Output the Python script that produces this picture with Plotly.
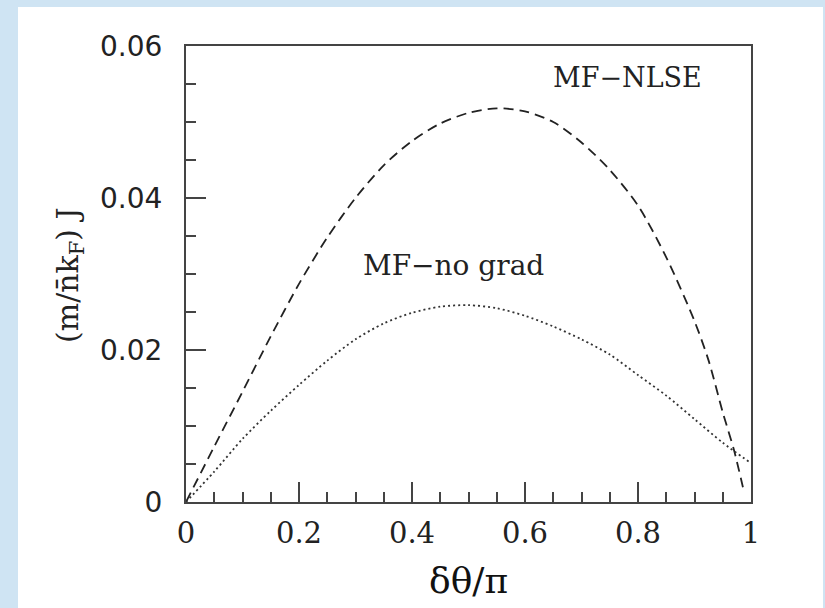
import plotly.graph_objects as go

# Josephson current vs. phase difference
phase = [0.0, 0.05, 0.10, 0.15, 0.20, 0.25, 0.30, 0.35, 0.40, 0.45, 0.50,
         0.55, 0.60, 0.65, 0.70, 0.75, 0.80, 0.85, 0.90, 0.925, 0.95, 0.97, 0.988]
j_nlse = [0.0, 0.0073, 0.0145, 0.0218, 0.0287, 0.0348, 0.0400, 0.0443, 0.0475, 0.0498, 0.0512,
          0.0518, 0.0514, 0.0500, 0.0473, 0.0437, 0.0390, 0.0322, 0.0238, 0.0186, 0.0118, 0.0068, 0.0012]

phase_ng = [0.0, 0.05, 0.10, 0.15, 0.20, 0.25, 0.30, 0.35, 0.40, 0.45, 0.50,
            0.55, 0.60, 0.65, 0.70, 0.75, 0.80, 0.85, 0.90, 0.95, 1.0]
j_nograd = [0.0, 0.0040, 0.0083, 0.0120, 0.0154, 0.0186, 0.0214, 0.0235, 0.0249, 0.0257, 0.0259,
            0.0255, 0.0245, 0.0231, 0.0214, 0.0194, 0.0167, 0.0140, 0.0109, 0.0078, 0.0051]

x_ticks = [0, 0.2, 0.4, 0.6, 0.8, 1]
x_ticktext = ["0", "0.2", "0.4", "0.6", "0.8", "1"]
y_ticks = [0, 0.02, 0.04, 0.06]
y_ticktext = ["0", "0.02", "0.04", "0.06"]

W, H = 825, 608
ML, MR, MT, MB = 186, 74, 46, 106
PW, PH = W - ML - MR, H - MT - MB


def px_x(p):
    return (p - ML) / PW


def px_y(p):
    return (H - MB - p) / PH


fig = go.Figure()
fig.add_trace(go.Scatter(x=phase, y=j_nlse, mode="lines",
                         line=dict(color="#222", width=1.8, dash="10px,6px",
                                   shape="spline", smoothing=0.8),
                         showlegend=False))
fig.add_trace(go.Scatter(x=phase_ng, y=j_nograd, mode="lines",
                         line=dict(color="#333", width=1.8, dash="2px,3px",
                                   shape="spline", smoothing=0.8),
                         showlegend=False))

axis_common = dict(showline=True, mirror=True, linecolor="#444", linewidth=2,
                   showgrid=False, zeroline=False, ticks="inside",
                   tickcolor="#444", tickwidth=1.5, ticklen=20)

fig.update_xaxes(range=[0, 1], tickvals=x_ticks, ticktext=x_ticktext,
                 tickfont=dict(family="DejaVu Serif", size=29, color="#222"),
                 minor=dict(dtick=0.05, tick0=0, ticks="inside", ticklen=10,
                            tickcolor="#444", tickwidth=1.5),
                 ticklabelstandoff=4, **axis_common)
fig.update_yaxes(range=[0, 0.06], tickvals=y_ticks, ticktext=y_ticktext,
                 tickfont=dict(family="DejaVu Sans", size=28, color="#222"),
                 minor=dict(dtick=0.005, tick0=0, ticks="inside", ticklen=10,
                            tickcolor="#444", tickwidth=1.5),
                 ticklabelstandoff=16, **axis_common)

fig.add_annotation(x=0.782, y=0.0559, xref="x", yref="y", text="MF−NLSE",
                   xanchor="center", yanchor="middle", showarrow=False,
                   font=dict(family="DejaVu Serif", size=27, color="#222"))
fig.add_annotation(x=0.4735, y=0.0311, xref="x", yref="y", text="MF−no grad",
                   xanchor="center", yanchor="middle", showarrow=False,
                   font=dict(family="DejaVu Serif", size=28, color="#222"))

# axis titles
fig.add_annotation(x=px_x(468), y=px_y(580), xref="paper", yref="paper",
                   text="δθ/π", xanchor="center", yanchor="middle", showarrow=False,
                   font=dict(family="DejaVu Serif", size=36, color="#111"))
fig.add_annotation(x=px_x(69), y=px_y(275), xref="paper", yref="paper",
                   text="(m/n̄k<sub>F</sub>) J", textangle=-90,
                   xanchor="center", yanchor="middle", showarrow=False,
                   font=dict(family="DejaVu Serif", size=30, color="#222"))

# white panel on the light-blue page
fig.add_shape(type="rect", xref="paper", yref="paper", layer="below",
              x0=px_x(18), x1=px_x(823), y0=px_y(608), y1=px_y(7),
              fillcolor="white", line=dict(width=0))

fig.update_layout(width=W, height=H, margin=dict(l=ML, r=MR, t=MT, b=MB),
                  paper_bgcolor="#cfe4f3", plot_bgcolor="white")

fig.write_html("out.html")
